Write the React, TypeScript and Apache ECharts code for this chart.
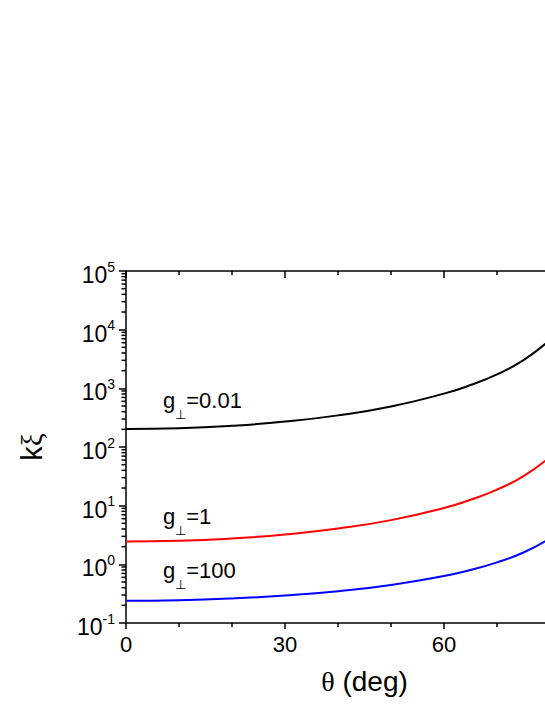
import React, { useEffect, useRef } from "react";
import * as echarts from "echarts";

// theta (deg)
const theta = [0, 10, 20, 30, 40, 50, 60, 65, 70, 75, 80];
// k*xi for g_perp = 0.01, 1, 100
const gSmall = [203, 209, 230, 271, 346, 491, 812, 1137, 1735, 3030, 6730];
const gOne = [2.45, 2.52, 2.76, 3.22, 4.07, 5.67, 9.14, 12.6, 18.8, 31.9, 68];
const gLarge = [0.24, 0.245, 0.262, 0.294, 0.348, 0.445, 0.633, 0.8, 1.08, 1.59, 2.78];

const seriesNames = ["0.01", "1", "100"];
const seriesColors = ["#000000", "#ff0000", "#0000ff"];

const xTickLabels = [0, 30, 60];
const decades = [0.1, 1, 10, 100, 1000, 10000];
const minorMult = [2, 3, 4, 5, 6, 7, 8, 9];

const SANS = "'Liberation Sans', Arial, sans-serif";
const SERIF = "'Liberation Serif', 'DejaVu Serif', serif";

export default function App() {
  const ref = useRef<HTMLDivElement>(null);
  useEffect(() => {
    if (!ref.current) return;
    const chart = echarts.init(ref.current, undefined, { renderer: "svg" });
    const minorTickData: number[][] = [];
    decades.forEach((d) => minorMult.forEach((m) => minorTickData.push([0, d * m])));

    const mk = (vals: number[]) => theta.map((t, i) => [t, vals[i]]);
    const all = [gSmall, gOne, gLarge];

    const labelRich = {
      g: { fontSize: 22, lineHeight: 22, fontFamily: SANS, fill: "#000", color: "#000", verticalAlign: "top" },
      s: { fontSize: 13, lineHeight: 13, fontFamily: SANS, fill: "#000", color: "#000", verticalAlign: "top", padding: [19, 0, 0, 0] },
    };
    const labelTops = [389, 505, 559];

    chart.setOption({
      animation: false,
      backgroundColor: "#fff",
      grid: { left: 126, top: 271, width: 477, height: 352, containLabel: false },
      xAxis: [
        {
          type: "value",
          min: 0,
          max: 90,
          interval: 30,
          position: "bottom",
          name: "{t|θ} (deg)",
          nameLocation: "middle",
          nameGap: 44,
          nameTextStyle: {
            fontSize: 28,
            fontFamily: SANS,
            color: "#000",
            rich: { t: { fontSize: 28, fontFamily: SERIF, color: "#000" } },
          },
          axisLine: { show: true, onZero: false, lineStyle: { color: "#000", width: 1.5 } },
          axisTick: { show: true, inside: false, length: 6, lineStyle: { color: "#000", width: 1.5 } },
          minorTick: { show: true, splitNumber: 3, length: 4, lineStyle: { color: "#000", width: 1.5 } },
          axisLabel: {
            fontSize: 22,
            fontFamily: SANS,
            color: "#000",
            margin: 10,
            formatter: (v: number) => (xTickLabels.includes(v) ? String(v) : ""),
          },
          splitLine: { show: false },
        },
        {
          type: "value",
          min: 0,
          max: 90,
          interval: 30,
          position: "top",
          axisLine: { show: true, onZero: false, lineStyle: { color: "#000", width: 1.5 } },
          axisTick: { show: true, inside: true, length: 7, lineStyle: { color: "#000", width: 1.5 } },
          minorTick: { show: true, splitNumber: 3, length: 4, lineStyle: { color: "#000", width: 1.5 } },
          axisLabel: { show: false },
          splitLine: { show: false },
        },
      ],
      yAxis: {
        type: "log",
        logBase: 10,
        min: 0.1,
        max: 100000,
        interval: 1,
        name: "{k|k}{x|ξ}",
        nameLocation: "middle",
        nameGap: 80,
        nameTextStyle: {
          fontSize: 29,
          color: "#000",
          rich: {
            k: { fontSize: 29, fontFamily: SANS, color: "#000" },
            x: { fontSize: 29, fontFamily: SERIF, color: "#000" },
          },
        },
        axisLine: { show: true, onZero: false, lineStyle: { color: "#000", width: 1.5 } },
        axisTick: { show: true, inside: false, length: 7, lineStyle: { color: "#000", width: 1.5 } },
        axisLabel: {
          margin: 11,
          fontSize: 23,
          fontFamily: SANS,
          color: "#000",
          formatter: (v: number) => {
            const e = Math.round(Math.log10(v));
            return `{b|10}{s|${e}}`;
          },
          rich: {
            b: { fontSize: 23, lineHeight: 23, fontFamily: SANS, color: "#000", verticalAlign: "top", padding: [4, 0, 0, 0] },
            s: { fontSize: 14, lineHeight: 14, fontFamily: SANS, color: "#000", verticalAlign: "top" },
          },
        },
        splitLine: { show: false },
      },
      graphic: seriesNames.map((n, i) => ({
        type: "text",
        left: 163,
        top: labelTops[i],
        silent: true,
        style: {
          text: `{g|g}{s|⊥}{g|=${n}}`,
          fill: "#000",
          rich: labelRich,
        },
      })),
      series: [
        ...all.map((vals, i) => ({
          type: "line",
          name: seriesNames[i],
          data: mk(vals),
          smooth: true,
          showSymbol: false,
          symbol: "none",
          lineStyle: { color: seriesColors[i], width: 2 },
          silent: true,
        })),
        {
          type: "custom",
          coordinateSystem: "cartesian2d",
          data: minorTickData,
          encode: { x: 0, y: 1 },
          clip: false,
          silent: true,
          z: 10,
          renderItem: (params: any, api: any) => {
            const p = api.coord([api.value(0), api.value(1)]);
            return {
              type: "rect",
              shape: { x: p[0] - 4.5, y: p[1] - 0.75, width: 4.5, height: 1.5 },
              style: { fill: "#000" },
            };
          },
        },
      ],
    });
    return () => chart.dispose();
  }, []);

  return (
    <div
      style={{
        position: "fixed",
        left: 0,
        top: 0,
        width: 545,
        height: 705,
        overflow: "hidden",
        background: "#fff",
      }}
    >
      <div ref={ref} style={{ width: 700, height: 705 }} />
    </div>
  );
}
